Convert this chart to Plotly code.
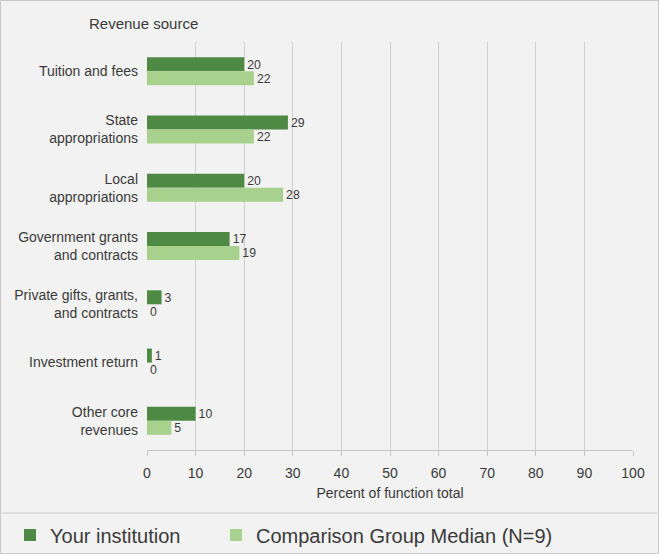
import plotly.graph_objects as go

categories = [
    "Tuition and fees",
    "State<br>appropriations",
    "Local<br>appropriations",
    "Government grants<br>and contracts",
    "Private gifts, grants,<br>and contracts",
    "Investment return",
    "Other core<br>revenues",
]
your_institution = [20, 29, 20, 17, 3, 1, 10]
comparison_median = [22, 22, 28, 19, 0, 0, 5]
x_ticks = [0, 10, 20, 30, 40, 50, 60, 70, 80, 90, 100]

DARK = "#4f8a45"
LIGHT = "#a9d18e"
BG = "#f2f2f2"
TEXT = "#3a3a3a"
LINE = "#c8c8c8"
FONT = "Liberation Sans, Arial, sans-serif"

W, H = 659, 554
L, R, T, B = 147, 26, 42, 104
pw, ph = W - L - R, H - T - B


def px_x(px):
    return (px - L) / pw


def px_y(py):
    return (H - B - py) / ph


def legend_box(left):
    return dict(
        orientation="h", x=px_x(left), xanchor="left", y=px_y(535), yanchor="middle",
        font=dict(size=20, color=TEXT, family=FONT), bgcolor="rgba(0,0,0,0)",
        itemsizing="constant",
    )


fig = go.Figure()
fig.add_trace(go.Bar(
    y=categories, x=your_institution, orientation="h", name="Your institution",
    marker=dict(color=DARK, line=dict(width=0)), legend="legend",
    text=your_institution, textposition="outside", cliponaxis=False,
    textfont=dict(size=14, color=TEXT, family=FONT),
))
fig.add_trace(go.Bar(
    y=categories, x=comparison_median, orientation="h", name="Comparison Group Median (N=9)",
    marker=dict(color=LIGHT, line=dict(width=0)), legend="legend2",
    text=comparison_median, textposition="outside", cliponaxis=False,
    textfont=dict(size=14, color=TEXT, family=FONT),
))

fig.update_layout(
    width=W, height=H,
    margin=dict(l=L, r=R, t=T, b=B, pad=0, autoexpand=False),
    paper_bgcolor=BG, plot_bgcolor=BG,
    font=dict(family=FONT, size=14, color=TEXT),
    barmode="group", bargap=0.52, bargroupgap=0,
    showlegend=True,
    legend=legend_box(10),
    legend2=legend_box(216),
    annotations=[dict(
        text="Revenue source", xref="paper", yref="paper",
        x=px_x(143), y=px_y(24), xanchor="center", yanchor="middle",
        showarrow=False, font=dict(size=15, color=TEXT, family=FONT),
    )],
    shapes=[
        dict(type="line", xref="paper", yref="paper",
             x0=px_x(2), x1=px_x(657), y0=px_y(513), y1=px_y(513),
             line=dict(color=LINE, width=1)),
        dict(type="rect", xref="paper", yref="paper",
             x0=px_x(0.5), x1=px_x(658.5), y0=px_y(553.5), y1=px_y(0.5),
             line=dict(color=LINE, width=1)),
    ],
)

fig.update_xaxes(
    range=[0, 100], tickvals=x_ticks, ticks="outside", ticklen=5, tickcolor=LINE,
    showgrid=True, gridcolor="#d0d0d0", gridwidth=1, zeroline=False,
    showline=True, linecolor=LINE, mirror=False, ticklabelstandoff=5,
    tickfont=dict(size=14, color=TEXT, family=FONT),
    title=dict(text="Percent of function total", standoff=8,
               font=dict(size=14, color=TEXT, family=FONT)),
)
fig.update_yaxes(
    autorange="reversed", showgrid=False, ticks="", showline=False,
    ticklabelstandoff=8, tickfont=dict(size=14, color=TEXT, family=FONT),
)

fig.write_html(
    "out.html",
    config={"displayModeBar": False},
    post_script="document.body.style.margin='0';document.body.style.overflow='hidden';",
)
